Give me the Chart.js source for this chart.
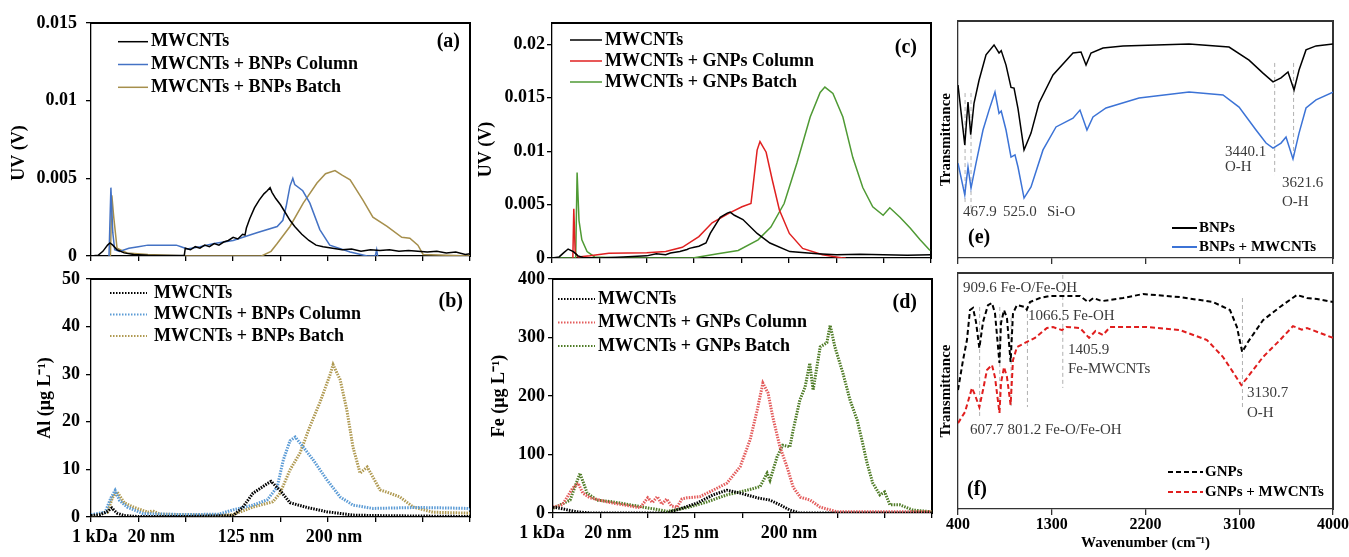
<!DOCTYPE html>
<html>
<head>
<meta charset="utf-8">
<script src="https://cdn.jsdelivr.net/npm/chart.js@4.4.0/dist/chart.umd.min.js"></script>
<style>
  html, body { margin: 0; padding: 0; background: #fff; }
  body { width: 1349px; height: 557px; position: relative; overflow: hidden; }
  canvas { position: absolute; }
  .edge { position: absolute; pointer-events: none; z-index: 5; box-sizing: content-box; }
</style>
</head>
<body>
<canvas id="panelA" width="480" height="270" style="left:0px;top:0px"></canvas>
<canvas id="panelB" width="480" height="287" style="left:0px;top:270px"></canvas>
<canvas id="panelC" width="470" height="270" style="left:470px;top:0px"></canvas>
<canvas id="panelD" width="470" height="287" style="left:470px;top:270px"></canvas>
<canvas id="panelE" width="419" height="270" style="left:930px;top:0px"></canvas>
<canvas id="panelF" width="419" height="287" style="left:930px;top:270px"></canvas>
<script>
// fractionation axis: 8 equal steps, size markers under (b) and (d)
const fractionTicks = [0, 1, 2, 3, 4, 5, 6, 7, 8]
const sizeLabels = ['1 kDa', '20 nm', '125 nm', '200 nm']
const sizeAtB = [0.08, 1.27, 3.27, 5.13]
const sizeAtD = [-0.23, 1.16, 2.91, 4.98]

// y ticks
const aTicks = [0, 0.005, 0.01, 0.015]
const bTicks = [0, 10, 20, 30, 40, 50]
const cTicks = [0, 0.005, 0.01, 0.015, 0.02]
const dTicks = [0, 100, 200, 300, 400]
const waveTicks = [400, 1300, 2200, 3100, 4000]

// (a) UV signal, BNPs
const aMwcnts = [[0, 0], [0.15, 0.00005], [0.25, 0.0003], [0.35, 0.0007], [0.4, 0.00084], [0.46, 0.0007], [0.55, 0.0004], [0.7, 0.0002], [0.9, 0.0001], [1.2, 0.00005], [1.6, 0.00003], [1.97, 0.00005], [1.99, 0.0005], [2.1, 0.0004], [2.2, 0.0006], [2.3, 0.0005], [2.4, 0.0007], [2.5, 0.0006], [2.6, 0.0008], [2.7, 0.0007], [2.8, 0.0009], [2.9, 0.001], [3.0, 0.0012], [3.1, 0.0011], [3.2, 0.0014], [3.25, 0.00135], [3.28, 0.0018], [3.35, 0.0024], [3.45, 0.0031], [3.55, 0.0036], [3.65, 0.004], [3.72, 0.0042], [3.78, 0.0044], [3.82, 0.0041], [3.9, 0.0037], [4.0, 0.0033], [4.1, 0.0028], [4.2, 0.0023], [4.3, 0.0019], [4.45, 0.0014], [4.6, 0.001], [4.75, 0.0007], [4.9, 0.0006], [5.1, 0.0005], [5.3, 0.0004], [5.5, 0.00045], [5.7, 0.0003], [5.9, 0.0004], [6.1, 0.00035], [6.3, 0.0004], [6.5, 0.0003], [6.7, 0.00035], [6.9, 0.0003], [7.1, 0.00025], [7.3, 0.0003], [7.5, 0.0002], [7.7, 0.00025], [7.9, 0.0001], [8, 0.00015]]
const aColumn = [[0.38, 0], [0.42, 0.0044], [0.46, 0.0015], [0.5, 0.0004], [0.6, 0.0003], [0.8, 0.0005], [1.0, 0.0006], [1.2, 0.0007], [1.5, 0.0007], [1.8, 0.0007], [1.9, 0.0006], [2.03, 0.00045], [2.3, 0.0006], [2.6, 0.0008], [3.0, 0.001], [3.5, 0.0015], [3.93, 0.0019], [4.05, 0.0023], [4.12, 0.0032], [4.2, 0.0045], [4.26, 0.005], [4.3, 0.0046], [4.47, 0.0042], [4.62, 0.0034], [4.83, 0.0017], [5.04, 0.0007], [5.47, 0.00026], [5.83, 0], [6.0, 0], [6.03, 0.0004], [6.05, 0]]
const aBatch = [[0.41, 0], [0.44, 0.0039], [0.48, 0.0025], [0.55, 0.0005], [0.76, 0.0002], [1.2, 0.0001], [1.6, 0.00005], [2.0, 0], [3.6, 0], [3.8, 0.0003], [3.93, 0.0008], [4.2, 0.0019], [4.48, 0.0034], [4.77, 0.0047], [4.95, 0.0053], [5.15, 0.0055], [5.3, 0.0052], [5.47, 0.0049], [5.74, 0.0036], [5.95, 0.0025], [6.25, 0.0019], [6.56, 0.0012], [6.73, 0.00115], [6.9, 0.0007], [7.01, 0.0001], [7.5, 0.00005], [8, 0]]

// (b) Al, µg/L
const bMwcnts = [[0, 0.3], [0.2, 0.5], [0.35, 1.2], [0.44, 1.9], [0.55, 0.8], [0.7, 0.3], [1, 0.1], [2, 0.1], [3.0, 0.3], [3.2, 2], [3.42, 5], [3.72, 7], [3.8, 7.5], [3.99, 5.6], [4.2, 3], [4.56, 2], [4.98, 1.1], [5.53, 0.4], [6, 0.3], [7, 0.2], [8, 0.1]]
const bColumn = [[0, 0.5], [0.3, 1], [0.42, 4], [0.51, 5.6], [0.6, 3.5], [0.76, 2.1], [1.1, 0.7], [2, 0.5], [2.7, 0.6], [3.0, 1.5], [3.42, 2.5], [3.72, 3.6], [3.93, 6.3], [4.06, 12], [4.2, 16], [4.31, 16.8], [4.48, 14.7], [4.69, 12], [4.98, 7.8], [5.26, 4.2], [5.53, 2.5], [5.95, 1.8], [6.88, 2], [7.5, 1.9], [7.94, 1.8], [8, 1.6]]
const bBatch = [[0, 0.2], [0.35, 1], [0.45, 4], [0.55, 5.3], [0.7, 3], [0.89, 2.1], [1.2, 1], [1.3, 1.3], [1.45, 0.6], [1.9, 0.5], [2.6, 0.4], [3.0, 0.5], [3.42, 2.1], [3.84, 3.2], [3.99, 5], [4.2, 9.9], [4.41, 13.4], [4.62, 19], [4.83, 24], [5.05, 30], [5.11, 32], [5.26, 28.8], [5.4, 22.5], [5.53, 14.7], [5.68, 9.2], [5.83, 10.5], [5.95, 8.4], [6.1, 5.7], [6.31, 5], [6.52, 4.2], [6.8, 2.1], [7.22, 1], [8, 0.8]]

// (c) UV signal, GNPs
const cMwcnts = [[0, 0], [0.15, 0.0001], [0.25, 0.0005], [0.34, 0.00084], [0.45, 0.0006], [0.55, 0.0002], [0.66, 0.00005], [1.0, 0], [1.5, 0.0001], [2.0, 0.0002], [2.2, 0.0004], [2.4, 0.0003], [2.5, 0.00047], [2.7, 0.0006], [2.85, 0.0008], [2.9, 0.0009], [3.0, 0.001], [3.1, 0.0011], [3.25, 0.0014], [3.34, 0.0023], [3.55, 0.0038], [3.7, 0.0042], [3.76, 0.0043], [3.85, 0.004], [4.03, 0.0036], [4.33, 0.0023], [4.6, 0.0014], [5.02, 0.0006], [5.6, 0.0004], [6, 0.0003], [6.5, 0.00035], [7, 0.0003], [7.5, 0.00025], [8, 0.0003]]
const cColumn = [[0.44, 0], [0.46, 0.0046], [0.49, 0.0005], [0.55, 0.0001], [0.8, 0.0002], [1.2, 0.00045], [2.0, 0.0005], [2.4, 0.0006], [2.75, 0.001], [3.1, 0.002], [3.38, 0.0033], [3.74, 0.0042], [4.01, 0.0048], [4.2, 0.0051], [4.24, 0.0066], [4.33, 0.0101], [4.39, 0.0109], [4.52, 0.0099], [4.65, 0.0073], [4.8, 0.0045], [5.01, 0.0023], [5.29, 0.0009], [5.71, 0.0003], [6.14, 0], [6.2, 0]]
const cBatch = [[0, 0], [0.5, 0], [0.53, 0.008], [0.57, 0.0035], [0.63, 0.0017], [0.74, 0.0006], [0.9, 0.0001], [1.5, 0], [2.97, 0], [3.5, 0.0004], [3.93, 0.0007], [4.35, 0.0017], [4.62, 0.0029], [4.9, 0.0051], [5.17, 0.0089], [5.45, 0.0132], [5.66, 0.0155], [5.76, 0.016], [5.93, 0.0154], [6.14, 0.0132], [6.35, 0.0094], [6.56, 0.0066], [6.77, 0.0048], [6.99, 0.004], [7.13, 0.0047], [7.35, 0.0038], [7.56, 0.0028], [7.77, 0.0017], [7.98, 0.0007]]

// (d) Fe, µg/L
const dMwcnts = [[0, 10], [0.15, 8], [0.5, 2], [0.8, 0], [2.4, 0], [2.68, 7], [3.04, 17], [3.38, 31], [3.67, 39], [3.95, 34], [4.31, 26], [4.58, 22], [4.79, 14], [5.0, 5], [5.2, 0], [8, 0]]
const dColumn = [[0, 10], [0.2, 14], [0.42, 43], [0.53, 51], [0.63, 34], [0.78, 26], [1.14, 19], [1.48, 14], [1.84, 9], [2.0, 26], [2.1, 18], [2.2, 28], [2.3, 15], [2.4, 24], [2.5, 12], [2.62, 10], [2.72, 24], [2.83, 26], [3.1, 28], [3.38, 39], [3.67, 51], [3.95, 79], [4.16, 125], [4.31, 176], [4.43, 222], [4.54, 205], [4.64, 164], [4.79, 113], [4.94, 79], [5.07, 44], [5.22, 27], [5.43, 22], [5.64, 10], [6.0, 2], [8, 2]]
const dBatch = [[0, 8], [0.36, 22], [0.57, 68], [0.72, 34], [0.93, 22], [1.27, 19], [1.63, 14], [1.98, 9], [2.41, 3], [2.83, 9], [3.25, 19], [3.67, 31], [4.1, 39], [4.37, 45], [4.52, 68], [4.58, 56], [4.73, 96], [4.85, 116], [5.0, 113], [5.07, 142], [5.21, 193], [5.32, 215], [5.42, 256], [5.49, 210], [5.64, 284], [5.78, 291], [5.85, 321], [5.95, 284], [6.12, 239], [6.27, 193], [6.42, 159], [6.52, 125], [6.63, 85], [6.75, 51], [6.9, 31], [7.0, 36], [7.11, 14], [7.32, 14], [7.6, 5], [8, 2]]

// (e) FTIR, BNPs (wavenumber, transmittance a.u.)
const eBnps = [[400, 73], [465, 47.7], [496, 65.8], [522, 52], [554, 65.4], [602, 75], [669, 85.7], [746, 89.9], [794, 86.5], [815, 87.5], [861, 81.4], [909, 72], [938, 71.7], [976, 63], [1034, 45.6], [1101, 52.7], [1178, 65.4], [1312, 77.2], [1504, 86.5], [1581, 86.9], [1629, 81.4], [1677, 86.5], [1792, 88.6], [1984, 89.5], [2618, 90.3], [3002, 89], [3194, 83.5], [3328, 78], [3424, 74.3], [3501, 76], [3568, 78.5], [3626, 70.9], [3674, 79.3], [3741, 87.8], [3837, 89.5], [4000, 90.3]]
const eBlend = [[400, 40], [465, 26.6], [496, 38.4], [525, 29.5], [573, 40], [640, 54], [698, 62.4], [755, 70], [794, 61], [815, 62], [861, 54], [909, 42.6], [947, 43.5], [976, 38.4], [1034, 25.3], [1101, 30], [1216, 45.6], [1341, 55.3], [1504, 59], [1571, 62.4], [1638, 54], [1696, 59.5], [1821, 63.3], [2138, 67.5], [2618, 70], [2944, 68.8], [3098, 63.7], [3261, 54], [3357, 48.5], [3424, 46.4], [3501, 48.5], [3549, 51], [3616, 41.8], [3674, 52.7], [3741, 63.3], [3837, 66.7], [4000, 70]]
const ePeaks = [467.9, 525.0, 3440.1, 3621.6]

// (f) FTIR, GNPs
const fGnps = [[400, 50.4], [448, 63], [486, 71.6], [515, 84.3], [544, 85.2], [573, 79.2], [605, 68.2], [640, 79.2], [688, 86.4], [726, 87.3], [755, 83], [798, 61.9], [813, 78.8], [842, 84.3], [870, 80.9], [905, 62.3], [928, 83], [966, 86.4], [1043, 85.6], [1060, 84.5], [1091, 87.7], [1187, 89.4], [1283, 90.3], [1571, 90.3], [1648, 87.7], [1700, 89.4], [1782, 88.1], [1984, 89.4], [2176, 91.1], [2531, 89.8], [2848, 87.7], [3011, 84.3], [3078, 77.1], [3128, 66.5], [3184, 70.8], [3328, 80], [3491, 85.6], [3654, 90.7], [3750, 89.4], [3846, 89], [4000, 87.7]]
const fBlend = [[400, 36.4], [467, 41.1], [534, 51.3], [563, 48.3], [605, 43.2], [640, 50.4], [678, 58.9], [726, 61], [755, 55.9], [798, 40.7], [813, 53.4], [842, 60.2], [870, 55.9], [905, 44.1], [928, 63.1], [966, 68.6], [1062, 70.8], [1139, 72.5], [1254, 76.7], [1312, 77.1], [1398, 75.8], [1440, 77.1], [1571, 76.7], [1658, 72.5], [1720, 75.4], [1792, 73.7], [1859, 77.1], [2214, 77.1], [2531, 75.8], [2790, 71.6], [2944, 64.4], [3040, 58], [3120, 52.5], [3174, 55.5], [3328, 64.4], [3491, 71.6], [3616, 77.5], [3700, 76], [3750, 76.7], [3875, 74.6], [4000, 72.5]]
const fPeaks = [607.7, 801.2, 909.6, 1066.5, 1405.9, 3130.7]

const serif = "'Liberation Serif', 'Times New Roman', serif"
const bold = (size) => ({ family: serif, size: size, weight: 'bold' })

// legend drawn inside the plot area, plus the panel letter
const boxLegend = {
  id: 'boxLegend',
  afterDraw(chart, args, opts) {
    const { ctx, chartArea: a } = chart
    ctx.save()
    ctx.font = `bold ${opts.size}px ${serif}`
    ctx.textBaseline = 'middle'
    chart.data.datasets.forEach((ds, i) => {
      const y = a.top + opts.y + i * opts.rowH
      const x0 = a.left + opts.x
      ctx.strokeStyle = ds.borderColor
      ctx.lineWidth = opts.lineWidth || 1.5
      ctx.setLineDash(opts.dash ? [opts.dash[0], opts.dash[1]] : [])
      ctx.beginPath()
      ctx.moveTo(x0, y)
      ctx.lineTo(x0 + opts.len, y)
      ctx.stroke()
      ctx.fillStyle = '#000'
      ctx.fillText(ds.label, x0 + opts.len + opts.gap, y)
    })
    const tag = opts.tag
    ctx.font = `bold 20px ${serif}`
    ctx.textAlign = tag.side === 'right' ? 'right' : 'left'
    ctx.fillText(tag.text, (tag.side === 'right' ? a.right : a.left) + tag.x, a.top + tag.y)
    ctx.restore()
  },
}

// peak guide lines and band labels for the FTIR panels
const notesPlugin = {
  id: 'notes',
  beforeDatasetsDraw(chart, args, opts) {
    if (!opts.peaks) return
    const { ctx, scales } = chart
    ctx.save()
    ctx.strokeStyle = '#b0b0b0'
    ctx.lineWidth = 1
    ctx.setLineDash([4, 3])
    opts.peaks.forEach((p, i) => {
      const x = scales.x.getPixelForValue(p)
      ctx.beginPath()
      ctx.moveTo(x, scales.y.getPixelForValue(opts.spans[i][0]))
      ctx.lineTo(x, scales.y.getPixelForValue(opts.spans[i][1]))
      ctx.stroke()
    })
    ctx.restore()
  },
  afterDatasetsDraw(chart, args, opts) {
    if (!opts.texts) return
    const { ctx, scales } = chart
    ctx.save()
    ctx.fillStyle = '#3a3a3a'
    ctx.font = `15px ${serif}`
    ctx.textBaseline = 'middle'
    opts.texts.forEach((t) => {
      ctx.fillText(t[0], scales.x.getPixelForValue(t[1]), scales.y.getPixelForValue(t[2]))
    })
    ctx.restore()
  },
}

function series(label, data, color, style) {
  const ds = { label: label, data: data, borderColor: color, xAxisID: 'x', yAxisID: 'y', borderWidth: 1.5 }
  if (style === 'dots') {
    ds.borderWidth = 3
    ds.borderDash = [1.5, 1.2]
  }
  if (style === 'dash') {
    ds.borderWidth = 2
    ds.borderDash = [5, 3]
  }
  return ds
}

// top and right edges of the box, drawn as bare axis lines
function edge(position, color) {
  const horizontal = position === 'top'
  return {
    type: 'linear', axis: horizontal ? 'x' : 'y', position: position,
    ticks: { display: false },
    grid: { display: false, drawTicks: false },
    border: { display: true, color: color, width: 1.3 },
    afterFit: (s) => { if (horizontal) s.height = 0; else s.width = 0 },
  }
}

function fractionX(height) {
  return {
    type: 'linear', axis: 'x', position: 'bottom', min: 0, max: 8,
    afterBuildTicks: (s) => { s.ticks = fractionTicks.map((v) => ({ value: v })) },
    ticks: { display: false },
    grid: { drawOnChartArea: false, tickLength: 5, color: '#000', lineWidth: 1.3 },
    border: { color: '#000', width: 1.3 },
    afterFit: (s) => { s.height = height },
  }
}

function sizeAxis(positions) {
  return {
    type: 'linear', axis: 'x', position: 'bottom', weight: 1, min: 0, max: 8,
    afterBuildTicks: (s) => { s.ticks = positions.map((v) => ({ value: v })) },
    ticks: { autoSkip: false, maxRotation: 0, padding: 4, color: '#000', font: bold(18), callback: (v, i) => sizeLabels[i] },
    grid: { display: false, drawTicks: false },
    border: { display: false },
    afterFit: (s) => { s.height = 30 },
  }
}

function valueY(max, ticks, title, width, pad) {
  return {
    type: 'linear', axis: 'y', position: 'left', min: 0, max: max,
    afterBuildTicks: (s) => { s.ticks = ticks.map((v) => ({ value: v })) },
    ticks: { color: '#000', font: bold(18), padding: pad, callback: (v) => String(Number(v.toFixed(4))) },
    grid: { drawOnChartArea: false, tickLength: 5, color: '#000', lineWidth: 1.3 },
    border: { color: '#000', width: 1.3 },
    title: { display: true, text: title, color: '#000', font: bold(18) },
    // fixed width; tick labels may overhang the plot edges without shrinking it
    afterFit: (s) => {
      s.width = width
      s.paddingTop = 0
      s.paddingBottom = 0
    },
  }
}

function waveX(height, labels) {
  return {
    type: 'linear', axis: 'x', position: 'bottom', min: 400, max: 4000,
    afterBuildTicks: (s) => { s.ticks = waveTicks.map((v) => ({ value: v })) },
    ticks: { display: labels, color: '#000', font: bold(16), padding: 0, maxRotation: 0, autoSkip: false, callback: (v) => String(v) },
    grid: { drawOnChartArea: false, tickLength: 6, color: '#333', lineWidth: 1.3 },
    border: { color: '#333', width: 1.3 },
    title: { display: labels, text: 'Wavenumber (cm\u207B\u00B9)', color: '#000', font: bold(15) },
    afterFit: (s) => { s.height = height },
  }
}

function transY() {
  return {
    type: 'linear', axis: 'y', position: 'left', min: 0, max: 100,
    ticks: { display: false },
    grid: { display: false },
    border: { color: '#333', width: 1.3 },
    title: { display: true, text: 'Transmittance', color: '#000', font: bold(15) },
    afterFit: (s) => { s.width = 25 },
  }
}

// top/right edge of the box as a thin overlay laid on the chart's own plot area
function outlineBox(chart, color) {
  const a = chart.chartArea
  const c = chart.canvas
  const box = document.createElement('div')
  box.className = 'edge'
  box.style.left = (c.offsetLeft + a.left) + 'px'
  box.style.top = (c.offsetTop + a.top - 0.5) + 'px'
  box.style.width = (a.right - a.left - 0.5) + 'px'
  box.style.height = (a.bottom - a.top) + 'px'
  box.style.borderTop = '1px solid ' + color
  box.style.borderRight = '1px solid ' + color
  document.body.appendChild(box)
}

function makeChart(id, cfg) {
  const edgeColor = cfg.frameColor || '#000'
  cfg.scales.top = edge('top', edgeColor)
  cfg.scales.right = edge('right', edgeColor)
  const chart = new Chart(document.getElementById(id), {
    type: 'line',
    data: { datasets: cfg.datasets },
    options: {
      responsive: false,
      animation: false,
      devicePixelRatio: 1,
      layout: { padding: cfg.padding },
      elements: { point: { radius: 0 }, line: { tension: 0 } },
      plugins: {
        legend: { display: false },
        tooltip: { enabled: false },
        boxLegend: cfg.legend,
        notes: cfg.notes || { peaks: null, texts: null },
      },
      scales: cfg.scales,
    },
    plugins: [boxLegend, notesPlugin],
  })
  outlineBox(chart, edgeColor)
  return chart
}

makeChart('panelA', {
  padding: { left: 5, top: 23, right: 10, bottom: 0 },
  datasets: [
    series('MWCNTs', aMwcnts, '#000000'),
    series('MWCNTs + BNPs Column', aColumn, '#4472C4'),
    series('MWCNTs + BNPs Batch', aBatch, '#A68F4C'),
  ],
  scales: { x: fractionX(14), y: valueY(0.015, aTicks, 'UV (V)      ', 86, 9) },
  legend: { x: 27, y: 18.7, rowH: 22.8, len: 30, gap: 3, size: 18, tag: { text: '(a)', x: -10, y: 19, side: 'right' } },
})

makeChart('panelB', {
  padding: { left: 31, top: 9, right: 10, bottom: 4 },
  datasets: [
    series('MWCNTs', bMwcnts, '#000000', 'dots'),
    series('MWCNTs + BNPs Column', bColumn, '#5B9BD5', 'dots'),
    series('MWCNTs + BNPs Batch', bBatch, '#B09A52', 'dots'),
  ],
  scales: { x: fractionX(6), xl: sizeAxis(sizeAtB), y: valueY(50, bTicks, 'Al (\u03BCg L\u207B\u00B9)', 60, 6) },
  legend: { x: 19, y: 14, rowH: 21.5, len: 37, gap: 7, size: 18, lineWidth: 2, dash: [1.5, 1.5], tag: { text: '(b)', x: -7, y: 23, side: 'right' } },
})

makeChart('panelC', {
  padding: { left: 2, top: 23, right: 9, bottom: 0 },
  datasets: [
    series('MWCNTs', cMwcnts, '#000000'),
    series('MWCNTs + GNPs Column', cColumn, '#E02020'),
    series('MWCNTs + GNPs Batch', cBatch, '#4F9A34'),
  ],
  scales: { x: fractionX(12), y: valueY(0.022, cTicks, 'UV (V)    ', 80, 2) },
  legend: { x: 18, y: 17, rowH: 21, len: 32, gap: 3, size: 18, tag: { text: '(c)', x: -14, y: 25, side: 'right' } },
})

makeChart('panelD', {
  padding: { left: 15, top: 9, right: 8, bottom: 8 },
  datasets: [
    series('MWCNTs', dMwcnts, '#000000', 'dots'),
    series('MWCNTs + GNPs Column', dColumn, '#E35B5B', 'dots'),
    series('MWCNTs + GNPs Batch', dBatch, '#4E7B25', 'dots'),
  ],
  scales: { x: fractionX(6), xl: sizeAxis(sizeAtD), y: valueY(400, dTicks, 'Fe (\u03BCg L\u207B\u00B9)', 68, 3) },
  legend: { x: 5, y: 20, rowH: 23.5, len: 37, gap: 3, size: 18, lineWidth: 2, dash: [1.5, 1.5], tag: { text: '(d)', x: -15, y: 24, side: 'right' } },
})

makeChart('panelE', {
  padding: { left: 3, top: 21, right: 16, bottom: 0 },
  frameColor: '#333',
  datasets: [
    series('BNPs', eBnps, '#000000'),
    series('BNPs + MWCNTs', eBlend, '#3C73D6'),
  ],
  scales: { x: waveX(12, false), y: transY() },
  legend: { x: 214, y: 207, rowH: 19, len: 25, gap: 2, size: 15, lineWidth: 2, tag: { text: '(e)', x: 10, y: 217, side: 'left' } },
  notes: {
    peaks: ePeaks,
    spans: [[69.6, 23.2], [69.6, 21], [82.3, 35], [82.3, 41.4]],
    texts: [['467.9', 448, 19.4], ['525.0', 832, 19.4], ['Si-O', 1254, 19.4], ['3440.1', 2963, 44.7], ['O-H', 2963, 38.4], ['3621.6', 3510, 31.6], ['O-H', 3510, 23.6]],
  },
})

makeChart('panelF', {
  padding: { left: 3, top: 3, right: 16, bottom: 1 },
  frameColor: '#333',
  datasets: [
    series('GNPs', fGnps, '#000000', 'dash'),
    series('GNPs + MWCNTs', fBlend, '#E01E1E', 'dash'),
  ],
  scales: { x: waveX(47, true), y: transY() },
  legend: { x: 210, y: 199, rowH: 20, len: 35, gap: 2, size: 15, lineWidth: 2, dash: [5, 3], tag: { text: '(f)', x: 9, y: 217, side: 'left' } },
  notes: {
    peaks: fPeaks,
    spans: [[85.6, 38.6], [85.6, 40.7], [80.9, 42.8], [85.6, 43.2], [99.2, 51.3], [89.4, 42.8]],
    texts: [['909.6 Fe-O/Fe-OH', 448, 93.6], ['1066.5 Fe-OH', 1072, 81.8], ['1405.9', 1456, 67.4], ['Fe-MWCNTs', 1456, 59.3], ['607.7 801.2 Fe-O/Fe-OH', 515, 33.5], ['3130.7', 3174, 49.2], ['O-H', 3174, 40.7]],
  },
})
</script>
</body>
</html>
